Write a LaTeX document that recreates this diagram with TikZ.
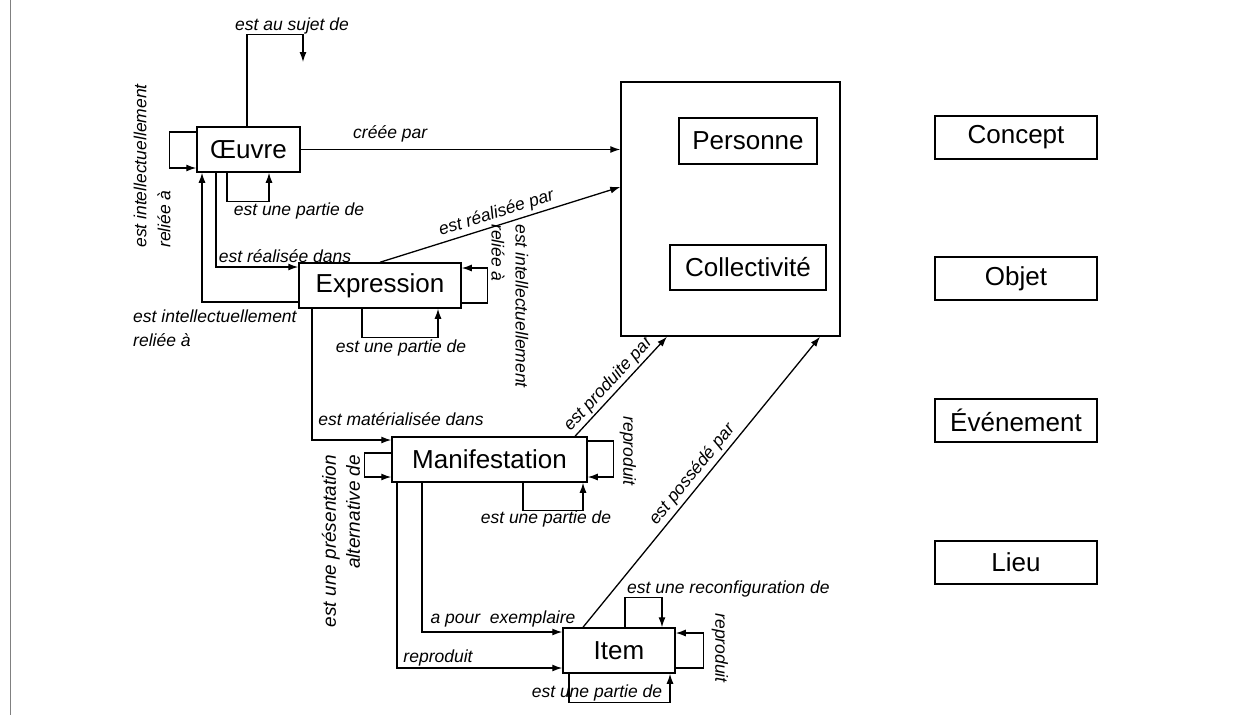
\documentclass[tikz,border=0pt]{standalone}
\usepackage{fontspec}
\setmainfont{Liberation Sans}
\usepackage{tikz}
\usetikzlibrary{arrows.meta}

\begin{document}
\begin{tikzpicture}[x=1pt,y=-1pt,
  entity/.style={draw,line width=1.5pt,inner sep=0pt,font=\fontsize{26}{30}\selectfont},
  lbl/.style={inner sep=0pt,font=\fontsize{17.5}{24}\selectfont\itshape},
  arr/.style={line width=1.3pt,-{Latex[length=10pt,width=7pt]}}]

\useasboundingbox (0,0) rectangle (1235,724);
\draw [gray,line width=1pt] (10,0) -- (10,715);

% groupe 1
\node [entity,minimum width=103pt,minimum height=45pt] (oeuvre) at (248.5,149.5) {Œuvre};
\node [entity,minimum width=162pt,minimum height=45pt] (expression) at (380,285.5) {Expression};
\node [entity,minimum width=195pt,minimum height=45pt] (manif) at (489.5,459.5) {Manifestation};
\node [entity,minimum width=112pt,minimum height=45pt] (item) at (619,650.5) {Item};

% groupe 2
\node [entity,minimum width=219pt,minimum height=254pt] (agents) at (730.5,209) {};
\node [entity,minimum width=138pt,minimum height=46pt] (personne) at (748,141) {Personne};
\node [entity,minimum width=156pt,minimum height=45pt] (collectivite) at (748,267.5) {Collectivité};

% groupe 3
\node [entity,minimum width=162pt,minimum height=43pt] (concept) at (1016,137.5) {Concept};
\node [entity,minimum width=162pt,minimum height=43pt] (objet) at (1016,278.5) {Objet};
\node [entity,minimum width=162pt,minimum height=43pt] (evenement) at (1016,420.5) {Événement};
\node [entity,minimum width=162pt,minimum height=43pt] (lieu) at (1016,562.5) {Lieu};

\coordinate (sujet) at (303,62);

% Oeuvre
\draw [arr] ([xshift=-1.5pt]oeuvre.north) -- ++(0,-92) -| (sujet);
\node [lbl,anchor=base] (l-sujet) at (292,30) {est au sujet de};
\draw [arr] ([yshift=17.5pt]oeuvre.west) -- ++(-27,0) |- ([yshift=-18.5pt]oeuvre.west);
\node [lbl,rotate=90,align=left] (l-oeuvre) at (152,166) {est intellectuellement\\reliée à};
\draw [arr] (oeuvre.east) -- node [lbl,above=7pt,pos=0.28] {créée par} (oeuvre.east -| agents.west);
\draw [arr] ([xshift=-21.5pt]oeuvre.south) -- ++(0,29) -| ([xshift=20.5pt]oeuvre.south);
\node [lbl,anchor=base] (l-partie1) at (299,215) {est une partie de};

% Expression
\draw [arr] ([xshift=-32.5pt]oeuvre.south) |- ([yshift=18.5pt]expression.west);
\node [lbl,anchor=base] (l-realdans) at (285,262) {est réalisée dans};
\draw [arr] ([yshift=-16.5pt]expression.west) -| ([xshift=-46.5pt]oeuvre.south);
\node [lbl,anchor=north west,align=left] (l-expr) at (133,310) {est intellectuellement\\reliée à};
\draw [arr] (expression.north) -- node [lbl,sloped,above=3pt] {est réalisée par} ([yshift=22pt]agents.west);
\draw [arr] ([yshift=-17.5pt]expression.east) -- ++(26,0) |- ([yshift=17.5pt]expression.east);
\node [lbl,rotate=-90,align=left] (l-expr2) at (510,306) {est intellectuellement\\reliée à};
\draw [arr] ([xshift=-18pt]expression.south) -- ++(0,29) -| ([xshift=58pt]expression.south);
\node [lbl,anchor=base] (l-partie2) at (401,352) {est une partie de};

% Manifestation
\draw [arr] ([xshift=-68pt]expression.south) |- ([yshift=19.5pt]manif.west);
\node [lbl,anchor=base] (l-mat) at (401,425) {est matérialisée dans};
\draw [arr] ([yshift=6.5pt]manif.west) -- ++(-27,0) |- ([yshift=-17.5pt]manif.west);
\node [lbl,rotate=90,align=right,font=\fontsize{19}{24}\selectfont\itshape] (l-alt) at (341,541) {est une présentation\\alternative de};
\draw [arr] ([yshift=18.5pt]manif.east) -- ++(26,0) |- ([yshift=-17.5pt]manif.east);
\node [lbl,rotate=-90] (l-repro1) at (628,451) {reproduit};
\draw [arr] ([xshift=33.5pt]manif.south) -- ++(0,28) -| ([xshift=93.5pt]manif.south);
\node [lbl,anchor=base] (l-partie3) at (546,523) {est une partie de};
\draw [arr] ([xshift=85.5pt]manif.north) -- node [lbl,sloped,above=2pt,pos=0.45] {est produite par} ([xshift=-63.5pt]agents.south);

% Item
\draw [arr] ([xshift=-67.5pt]manif.south) |- ([yshift=18.5pt]item.west);
\node [lbl,anchor=base] (l-exemp) at (503,623) {a pour\ \ exemplaire};
\draw [arr] ([xshift=-92.5pt]manif.south) |- ([yshift=-17.5pt]item.west);
\node [lbl,anchor=base] (l-repro2) at (438,662) {reproduit};
\draw [arr] ([xshift=-36pt]item.north) -- node [lbl,sloped,above=3pt] {est possédé par} ([xshift=89.5pt]agents.south);
\draw [arr] ([xshift=6pt]item.north) -- ++(0,-30) -| ([xshift=43pt]item.north);
\node [lbl,anchor=base west] (l-reconf) at (627,593) {est une reconfiguration de};
\draw [arr] ([yshift=-17.5pt]item.east) -- ++(28,0) |- ([yshift=17.5pt]item.east);
\node [lbl,rotate=-90] (l-repro3) at (720,648) {reproduit};
\draw [arr] ([xshift=-50pt]item.south) -- ++(0,29) -| ([xshift=51pt]item.south);
\node [lbl,anchor=base] (l-partie4) at (597,697) {est une partie de};

\end{tikzpicture}
\end{document}
